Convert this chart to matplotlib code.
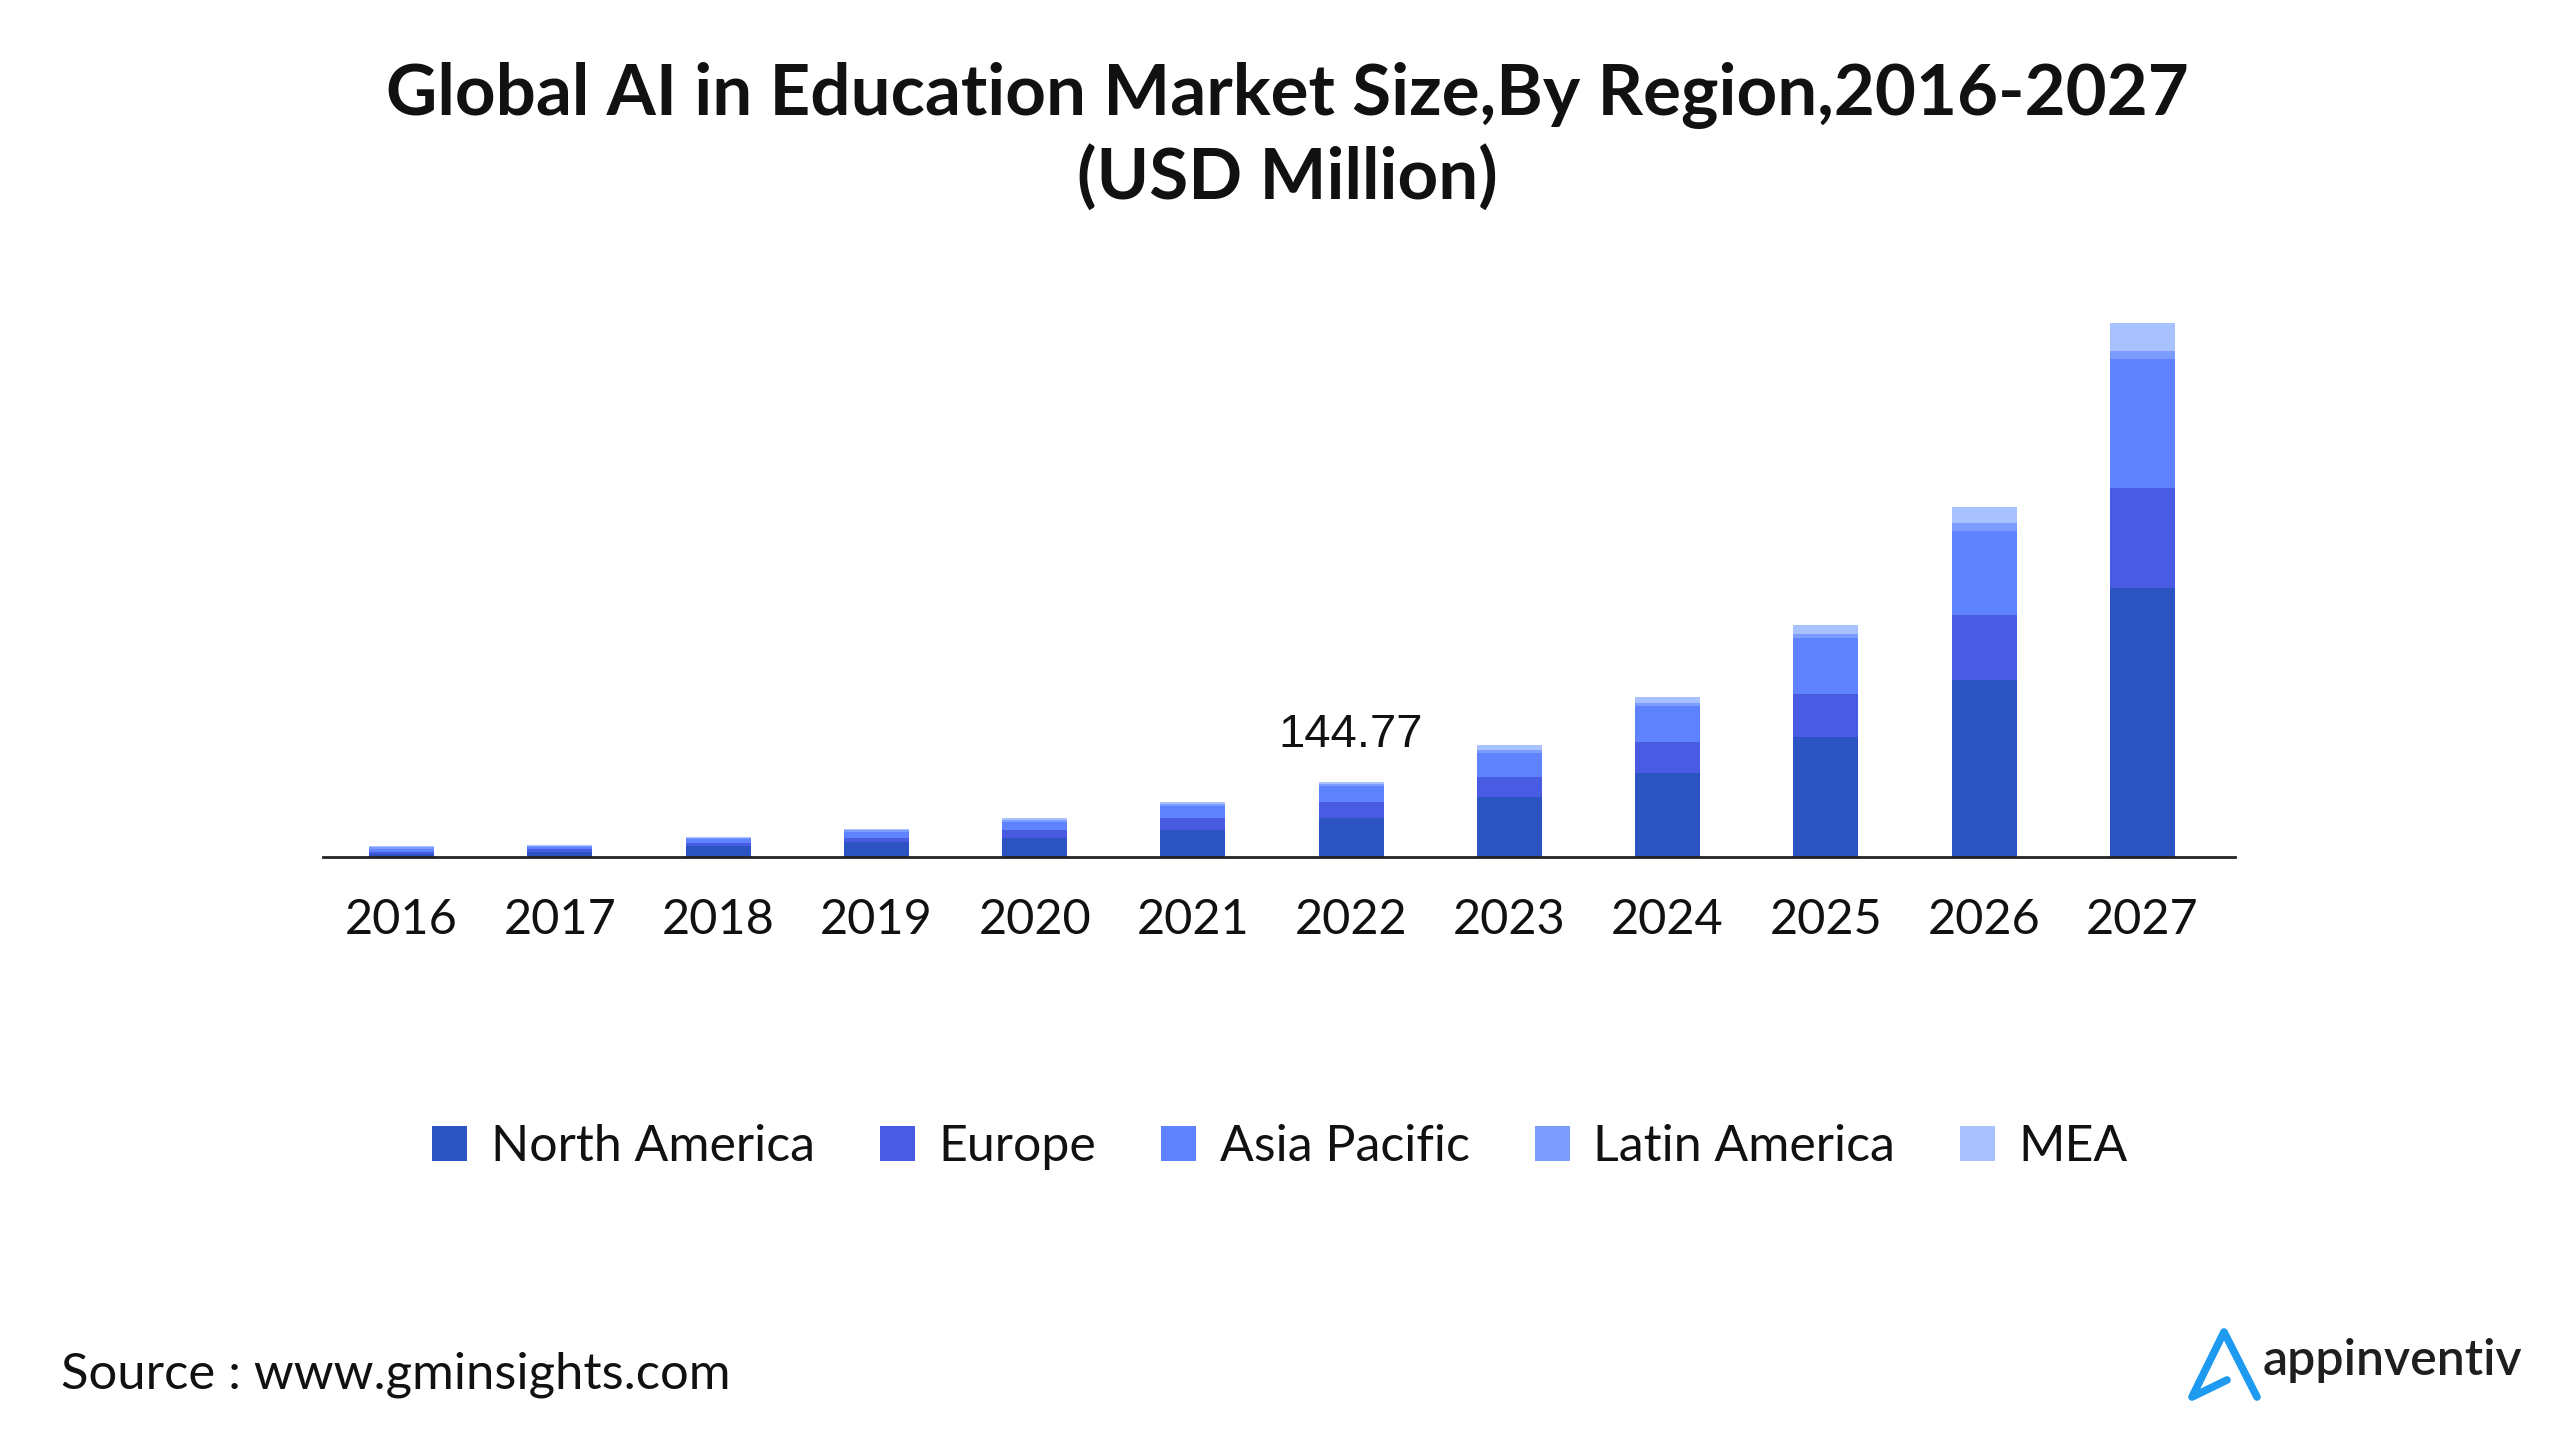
import numpy as np
from matplotlib import pyplot as plt
from matplotlib.lines import Line2D

years = ["2016", "2017", "2018", "2019", "2020", "2021", "2022", "2023", "2024", "2025", "2026", "2027"]
north_america = [5.5, 9.5, 20, 28, 37.3, 52.7, 75.3, 115, 162, 233, 342, 522]
europe = [4.7, 5.0, 7.0, 9.0, 14.1, 21.9, 30.2, 39, 61, 83, 127, 194]
asia_pacific = [5.4, 4.5, 7.5, 11, 15.4, 23.1, 30.9, 47, 70, 108, 162, 249]
latin_america = [3.4, 1.5, 2.0, 3.0, 3.9, 3.9, 3.9, 7.0, 5.7, 8.6, 17, 16.5]
mea = [2.7, 1.5, 2.0, 3.0, 4.5, 4.5, 4.47, 8.6, 11, 16, 31, 54]

regions = ["North America", "Europe", "Asia Pacific", "Latin America", "MEA"]
colors = ["#2B53C1", "#4A5BE3", "#5F83FF", "#7C9DFF", "#A8C2FF"]
label_year = "2022"

plt.rcParams['font.family'] = ['Lato', 'DejaVu Sans']

fig = plt.figure(figsize=(25.6, 14.4), dpi=100)
ax = fig.add_axes([0.126, 0.405, 0.747, 0.40])

x = np.arange(len(years))
series = [north_america, europe, asia_pacific, latin_america, mea]
bottom = np.zeros(len(years))
for name, vals, col in zip(regions, series, colors):
	ax.bar(x, vals, width=0.41, bottom=bottom, color=col, linewidth=0, label=name)
	bottom += np.array(vals)

totals = bottom
ax.set_xlim(-0.5, len(years) - 1 + 0.585)
ax.set_ylim(0, totals.max() * 576 / 534)

for s in ['top', 'right', 'left']:
	ax.spines[s].set_visible(False)
ax.spines['bottom'].set_color('#222222')
ax.spines['bottom'].set_linewidth(2)
ax.set_yticks([])
ax.set_xticks(x)
ax.set_xticklabels(years, fontsize=35, color='#111111')
ax.tick_params(axis='x', length=0, pad=30)

i = years.index(label_year)
ax.annotate(f"{totals[i]:.2f}", (x[i], totals[i]), xytext=(0, 18), textcoords='offset points',
	ha='center', va='bottom', fontsize=34, color='#111111',
	family=['Liberation Sans Narrow', 'Liberation Sans'], fontstretch='condensed')

fig.text(0.503, 0.934, "Global AI in Education Market Size,By Region,2016-2027",
	ha='center', va='center', fontsize=51, fontweight='bold', color='#111111')
fig.text(0.503, 0.877, "(USD Million)",
	ha='center', va='center', fontsize=51, fontweight='bold', color='#111111')

handles = [plt.Rectangle((0, 0), 1, 1, color=c, linewidth=0) for c in colors]
fig.legend(handles, regions, loc='center', bbox_to_anchor=(0.5, 0.2035), ncol=5,
	frameon=False, fontsize=36, handlelength=0.7, handleheight=0.7,
	handletextpad=0.47, columnspacing=1.3, labelcolor='#111111')

fig.text(0.024, 0.045, "Source : www.gminsights.com", ha='left', va='center',
	fontsize=36.5, color='#111111')

# logo
logo_x = np.array([2227, 2192, 2224, 2257]) / 2560
logo_y = 1 - np.array([1380, 1397, 1332, 1397]) / 1440
fig.add_artist(Line2D(logo_x, logo_y, color='#1E9BF0', linewidth=5.5,
	solid_capstyle='round', solid_joinstyle='round'))
fig.text(2263 / 2560, 1 - 1375 / 1440, "appinventiv", ha='left', va='baseline',
	fontsize=36, fontweight='semibold', color='#1f1f1f')

fig.savefig("out.png", dpi=100)
